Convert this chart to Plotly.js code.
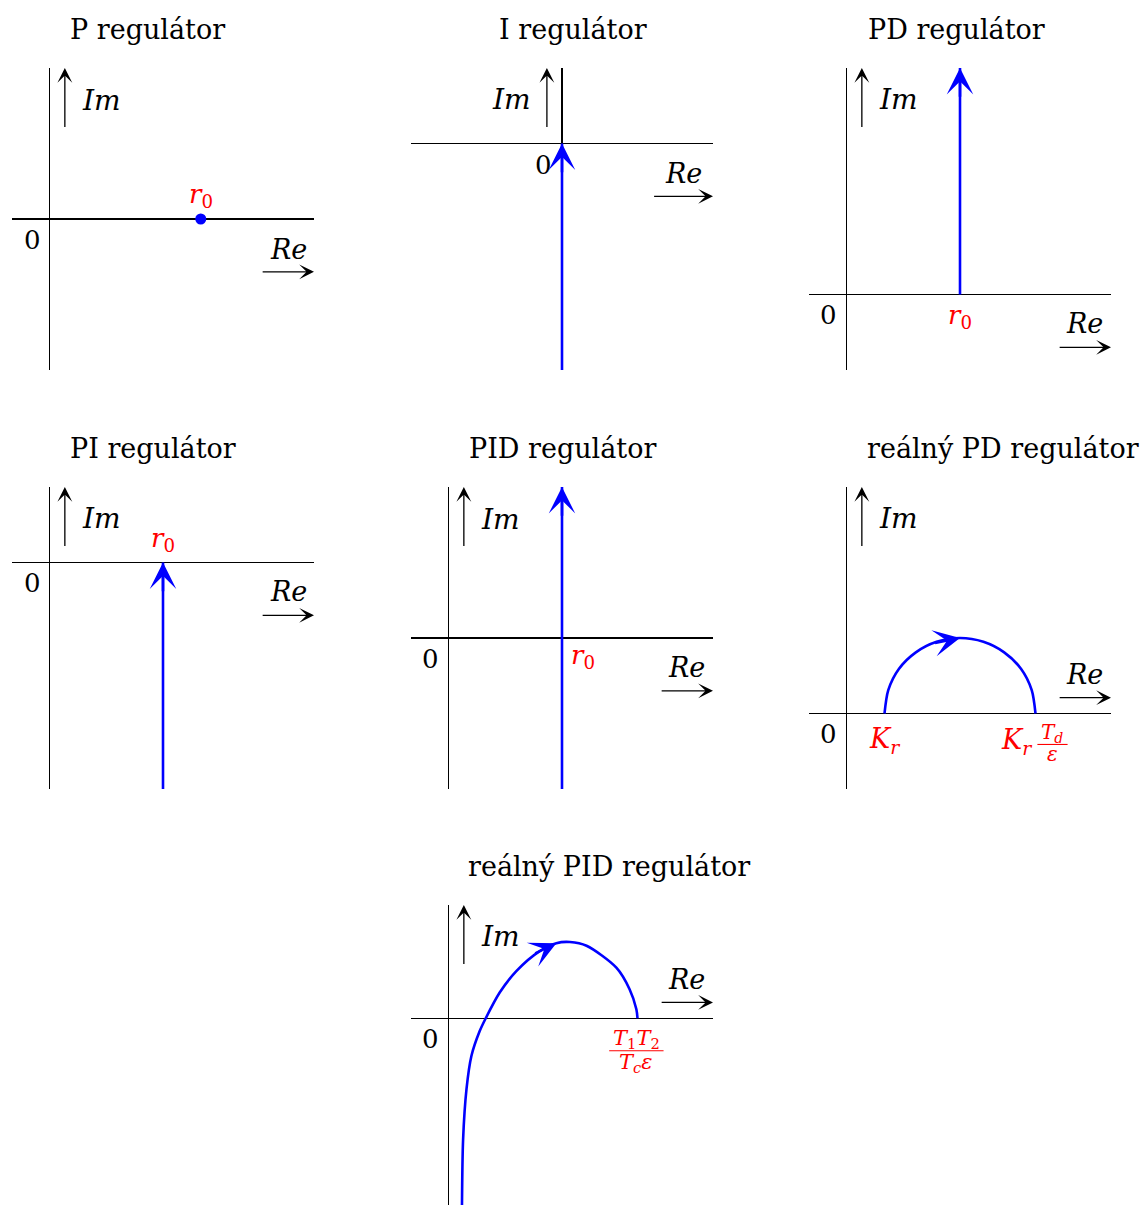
<!DOCTYPE html>
<html>
<head>
<meta charset="utf-8">
<script src="https://cdn.plot.ly/plotly-3.0.1.min.js"></script>
<style>html,body{margin:0;padding:0;background:#fff}</style>
</head>
<body>
<div id="chart" style="width:1146px;height:1205px"></div>
<script>
// Panel titles
const titles = ['P regulátor', 'I regulátor', 'PD regulátor', 'PI regulátor',
                'PID regulátor', 'reálný PD regulátor', 'reálný PID regulátor'];

// Frequency characteristics in the complex plane (Re, Im)
const pRe = [4];         const pIm = [0];
const iRe = [0, 0];      const iIm = [-6, 0];
const pdRe = [3, 3];     const pdIm = [0, 6];
const piRe = [3, 3];     const piIm = [-6, 0];
const pidRe = [3, 3];    const pidIm = [-4, 4];
const realPdRe = [1, 1.1, 1.38, 1.83, 2.38, 3, 3.62, 4.17, 4.62, 4.9, 5];
const realPdIm = [0, 0.62, 1.18, 1.62, 1.9, 2, 1.9, 1.62, 1.18, 0.62, 0];
const realPidRe = [0.35, 0.38, 0.47, 0.6, 0.82, 0.98, 1.35, 1.79, 2.41, 2.85, 3.21, 3.65, 4.44, 4.79, 4.97, 5];
const realPidIm = [-5, -3.21, -1.88, -1.0, -0.34, 0, 0.68, 1.25, 1.78, 1.99, 2.02, 1.92, 1.34, 0.77, 0.24, 0];

// Point labels
const r0Text = '<i>r</i><sub>0</sub>';
const krText = '<i>K</i><sub><i>r</i></sub>';
const tdNum = '<i>T</i><sub><i>d</i></sub>';
const tdDen = '<i>ε</i>';
const pidNum = '<i>T</i><sub>1</sub><i>T</i><sub>2</sub>';
const pidDen = '<i>T</i><sub><i>c</i></sub><i>ε</i>';

const W = 1146, H = 1205, U = 37.75;
const SERIF = 'DejaVu Serif, serif';
const BLUE = '#0000ff', RED = '#ff0000';

// Panel frames (pixel box, axis ranges, axis-arrow placement)
const panels = [
  {box: [12, 314, 68, 370],   xr: [-1, 7], yr: [-4, 4], imX: 0.4,  im: [2.4, 4], imL: [0.8, 3.15, 'left'],   reY: -1.4, re: [5.6, 7], reL: [6.33, -0.8], zero: [-0.45, -0.56], tx: 68,  ty: 29},
  {box: [411, 713, 68, 370],  xr: [-4, 4], yr: [-6, 2], imX: -0.4, im: [0.4, 2], imL: [-0.78, 1.17, 'right'], reY: -1.4, re: [2.4, 4], reL: [3.23, -0.8], zero: [-0.5, -0.56],  tx: 497, ty: 29},
  {box: [809, 1111, 68, 370], xr: [-1, 7], yr: [-2, 6], imX: 0.4,  im: [4.4, 6], imL: [0.8, 5.17, 'left'],   reY: -1.4, re: [5.6, 7], reL: [6.3, -0.77], zero: [-0.48, -0.53], tx: 866, ty: 29},
  {box: [12, 314, 487, 789],  xr: [-1, 7], yr: [-6, 2], imX: 0.4,  im: [0.4, 2], imL: [0.8, 1.17, 'left'],   reY: -1.4, re: [5.6, 7], reL: [6.33, -0.77], zero: [-0.45, -0.53], tx: 68,  ty: 448},
  {box: [411, 713, 487, 789], xr: [-1, 7], yr: [-4, 4], imX: 0.4,  im: [2.4, 4], imL: [0.8, 3.15, 'left'],   reY: -1.4, re: [5.6, 7], reL: [6.3, -0.77], zero: [-0.48, -0.56], tx: 467, ty: 448},
  {box: [809, 1111, 487, 789],xr: [-1, 7], yr: [-2, 6], imX: 0.4,  im: [4.4, 6], imL: [0.8, 5.17, 'left'],   reY: 0.42, re: [5.6, 7], reL: [6.3, 1.03],  zero: [-0.48, -0.53], tx: 865, ty: 448},
  {box: [411, 713, 905, 1205],xr: [-1, 7], yr: [-300 / U + 3, 3], imX: 0.4, im: [1.4, 3], imL: [0.8, 2.17, 'left'], reY: 0.42, re: [5.6, 7], reL: [6.3, 1.03], zero: [-0.48, -0.56], tx: 466, ty: 866}
];

const layout = {
  width: W, height: H,
  margin: {l: 0, r: 0, t: 0, b: 0},
  paper_bgcolor: '#fff', plot_bgcolor: 'rgba(0,0,0,0)',
  showlegend: false,
  annotations: [],
  shapes: []
};

function ax(i) { return i === 0 ? '' : String(i + 1); }

panels.forEach((p, i) => {
  const k = ax(i);
  const [L, R, T, B] = p.box;
  const common = {
    showgrid: false, showticklabels: false, ticks: '', showline: false,
    zeroline: true, zerolinecolor: '#000', zerolinewidth: 1.3, fixedrange: true
  };
  layout['xaxis' + k] = Object.assign({}, common, {
    domain: [L / W, R / W], range: p.xr, anchor: 'y' + k
  });
  layout['yaxis' + k] = Object.assign({}, common, {
    domain: [1 - B / H, 1 - T / H], range: p.yr, anchor: 'x' + k
  });
  const xref = 'x' + k, yref = 'y' + k;
  const A = layout.annotations;
  // Title
  A.push({xref: 'paper', yref: 'paper', x: p.tx / W, y: 1 - p.ty / H, xanchor: 'left', yanchor: 'middle',
          text: titles[i], showarrow: false, font: {family: SERIF, size: 27, color: '#000'}});
  // Im arrow + label
  A.push({xref, yref, axref: xref, ayref: yref, x: p.imX, y: p.im[1], ax: p.imX, ay: p.im[0],
          text: '', showarrow: true, arrowhead: 3, arrowsize: 1.9, arrowwidth: 1.3, arrowcolor: '#000', standoff: 0});
  A.push({xref, yref, x: p.imL[0], y: p.imL[1], xanchor: p.imL[2], yanchor: 'middle',
          text: '<i>Im</i>', showarrow: false, font: {family: SERIF, size: 28, color: '#000'}});
  // Re arrow + label
  A.push({xref, yref, axref: xref, ayref: yref, x: p.re[1], y: p.reY, ax: p.re[0], ay: p.reY,
          text: '', showarrow: true, arrowhead: 3, arrowsize: 1.9, arrowwidth: 1.3, arrowcolor: '#000', standoff: 0});
  A.push({xref, yref, x: p.reL[0], y: p.reL[1], xanchor: 'center', yanchor: 'middle',
          text: '<i>Re</i>', showarrow: false, font: {family: SERIF, size: 27, color: '#000'}});
  // Origin label
  A.push({xref, yref, x: p.zero[0], y: p.zero[1], xanchor: 'center', yanchor: 'middle',
          text: '0', showarrow: false, font: {family: SERIF, size: 26, color: '#000'}});
});

function blueLine(x, y, i, shape) {
  const k = ax(i);
  return {type: 'scatter', mode: 'lines', x, y, xaxis: 'x' + k, yaxis: 'y' + k,
          line: {color: BLUE, width: 2.6, shape: shape || 'linear', smoothing: 0.8},
          hoverinfo: 'skip', cliponaxis: false};
}

function blueHead(i, tipX, tipY, tailX, tailY) {
  const k = ax(i);
  layout.annotations.push({xref: 'x' + k, yref: 'y' + k, axref: 'x' + k, ayref: 'y' + k,
    x: tipX, y: tipY, ax: tailX, ay: tailY, text: '', showarrow: true,
    arrowhead: 3, arrowsize: 1.7, arrowwidth: 2.6, arrowcolor: BLUE, standoff: 0});
}

function redLabel(i, x, y, text, size, anchor) {
  const k = ax(i);
  layout.annotations.push({xref: 'x' + k, yref: 'y' + k, x, y, xanchor: anchor || 'center', yanchor: 'middle',
    text, showarrow: false, font: {family: SERIF, size, color: RED}});
}

// Stacked fraction: numerator, bar, denominator
function redFraction(i, x, yNum, yBar, yDen, halfW, num, den, size) {
  const k = ax(i);
  redLabel(i, x, yNum, num, size);
  redLabel(i, x, yDen, den, size);
  layout.shapes.push({type: 'line', xref: 'x' + k, yref: 'y' + k, x0: x - halfW, x1: x + halfW,
    y0: yBar, y1: yBar, line: {color: RED, width: 1.1}});
}

const traces = [];

// P regulator: a single point
traces.push({type: 'scatter', mode: 'markers', x: pRe, y: pIm, xaxis: 'x', yaxis: 'y',
             marker: {color: BLUE, size: 11}, hoverinfo: 'skip', cliponaxis: false});
redLabel(0, pRe[0], pIm[0] + 0.62, r0Text, 26);

// I regulator
traces.push(blueLine(iRe, iIm, 1));
blueHead(1, iRe[1], iIm[1], iRe[1], iIm[1] - 0.8);

// PD regulator
traces.push(blueLine(pdRe, pdIm, 2));
blueHead(2, pdRe[1], pdIm[1], pdRe[1], pdIm[1] - 0.8);
redLabel(2, pdRe[0], pdIm[0] - 0.58, r0Text, 26);

// PI regulator
traces.push(blueLine(piRe, piIm, 3));
blueHead(3, piRe[1], piIm[1], piRe[1], piIm[1] - 0.8);
redLabel(3, piRe[1], piIm[1] + 0.6, r0Text, 26);

// PID regulator
traces.push(blueLine(pidRe, pidIm, 4));
blueHead(4, pidRe[1], pidIm[1], pidRe[1], pidIm[1] - 0.8);
redLabel(4, pidRe[0] + 0.18, -0.5, r0Text, 26, 'left');

// Real PD regulator: semicircle
traces.push(blueLine(realPdRe, realPdIm, 5, 'spline'));
blueHead(5, realPdRe[5], realPdIm[5], 2.3, 1.86);
redLabel(5, realPdRe[0], -0.72, krText, 27);
redLabel(5, 4.5, -0.74, krText, 27);
redFraction(5, 5.45, -0.52, -0.82, -1.08, 0.4, tdNum, tdDen, 20);

// Real PID regulator
traces.push(blueLine(realPidRe, realPidIm, 6, 'spline'));
blueHead(6, realPidRe[9], realPidIm[9], 2.25, 1.7);
redFraction(6, realPidRe[realPidRe.length - 1] - 0.03, -0.56, -0.86, -1.19, 0.72, pidNum, pidDen, 21);

Plotly.newPlot('chart', traces, layout, {staticPlot: true, displayModeBar: false});
</script>
</body>
</html>
